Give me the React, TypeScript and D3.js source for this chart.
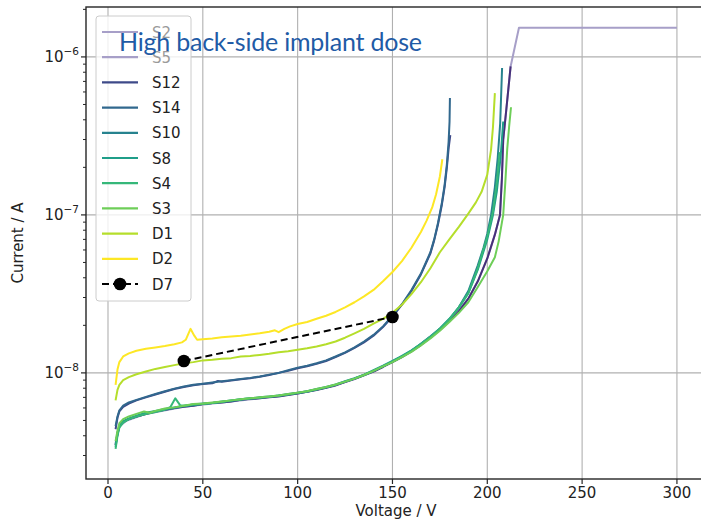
import React from 'react';
import * as d3 from 'd3';

type Pt = [number, number];

// ---- data (voltage V, current A) ----
const S2: Pt[] = [[4,3.6e-9],[6,4.6e-9],[10,5.0e-9],[20,5.5e-9],[40,6.1e-9],[60,6.5e-9],[80,6.9e-9],[100,7.4e-9],[120,8.3e-9],[140,1.02e-8],[160,1.37e-8],[180,2.12e-8],[190,2.95e-8],[195,3.8e-8],[200,5.3e-8],[204,7.5e-8],[206.7,1.0e-7],[207.7,1.7e-7],[208.4,3.0e-7],[210,4.6e-7],[212.3,8.7e-7],[216.7,1.53e-6],[300,1.53e-6]];
const S5: Pt[] = [[4,3.5e-9],[5,4.1e-9],[6,4.6e-9],[8,4.9e-9],[11,5.1e-9],[15,5.3e-9],[20,5.5e-9],[25,5.7e-9],[30,5.85e-9],[35,6.0e-9],[40,6.1e-9],[45,6.2e-9],[50,6.35e-9],[55,6.45e-9],[60,6.5e-9],[65,6.6e-9],[70,6.75e-9],[75,6.85e-9],[80,6.9e-9],[85,7.0e-9],[90,7.1e-9],[95,7.25e-9],[100,7.4e-9],[105,7.6e-9],[110,7.8e-9],[115,8.05e-9],[120,8.35e-9],[125,8.75e-9],[130,9.15e-9],[135,9.65e-9],[140,1.02e-8],[145,1.09e-8],[150,1.17e-8],[155,1.26e-8],[160,1.37e-8],[165,1.5e-8],[170,1.67e-8],[175,1.87e-8],[180,2.12e-8],[185,2.45e-8],[190,2.95e-8],[195,3.8e-8],[200,5.3e-8],[204,7.5e-8],[206.7,1.0e-7],[207.7,1.7e-7],[208.4,3.0e-7],[210,4.6e-7],[212.3,8.7e-7]];
const S12: Pt[] = [[4,4.4e-9],[5,5.2e-9],[6,5.7e-9],[8,6.1e-9],[11,6.4e-9],[15,6.7e-9],[20,7.0e-9],[25,7.3e-9],[30,7.6e-9],[35,7.9e-9],[40,8.15e-9],[45,8.35e-9],[50,8.5e-9],[55,8.6e-9],[58,8.9e-9],[60,8.8e-9],[65,8.95e-9],[70,9.1e-9],[75,9.25e-9],[80,9.45e-9],[85,9.7e-9],[90,1.0e-8],[95,1.03e-8],[100,1.07e-8],[105,1.1e-8],[110,1.14e-8],[115,1.19e-8],[120,1.26e-8],[125,1.34e-8],[130,1.44e-8],[135,1.56e-8],[140,1.72e-8],[145,1.95e-8],[150,2.27e-8],[155,2.7e-8],[160,3.3e-8],[165,4.2e-8],[170,5.7e-8],[172,6.9e-8],[174,8.7e-8],[176,1.15e-7],[177.5,1.5e-7],[178.7,2.0e-7],[179.7,2.7e-7],[180.5,3.2e-7]];
const S14: Pt[] = [[4,4.6e-9],[5,5.3e-9],[6,5.8e-9],[8,6.2e-9],[11,6.5e-9],[15,6.75e-9],[20,7.05e-9],[25,7.35e-9],[30,7.65e-9],[35,7.95e-9],[40,8.2e-9],[45,8.4e-9],[50,8.55e-9],[55,8.7e-9],[60,8.85e-9],[65,9.0e-9],[70,9.15e-9],[75,9.3e-9],[80,9.5e-9],[85,9.75e-9],[90,1.0e-8],[95,1.04e-8],[100,1.08e-8],[105,1.11e-8],[110,1.15e-8],[115,1.2e-8],[120,1.27e-8],[125,1.35e-8],[130,1.45e-8],[135,1.58e-8],[140,1.74e-8],[145,1.97e-8],[150,2.3e-8],[155,2.72e-8],[160,3.35e-8],[165,4.25e-8],[170,5.8e-8],[172,7.0e-8],[174,8.9e-8],[176,1.18e-7],[177.5,1.55e-7],[178.7,2.1e-7],[179.6,2.9e-7],[180.1,3.9e-7],[180.3,5.5e-7]];
const S10: Pt[] = [[4,3.5e-9],[5,4.2e-9],[6,4.6e-9],[8,4.9e-9],[11,5.1e-9],[15,5.3e-9],[20,5.55e-9],[25,5.7e-9],[30,5.85e-9],[35,6.0e-9],[40,6.15e-9],[45,6.25e-9],[50,6.35e-9],[55,6.45e-9],[60,6.55e-9],[65,6.65e-9],[70,6.75e-9],[75,6.85e-9],[80,6.95e-9],[85,7.05e-9],[90,7.15e-9],[95,7.3e-9],[100,7.45e-9],[105,7.6e-9],[110,7.85e-9],[115,8.1e-9],[120,8.4e-9],[125,8.8e-9],[130,9.2e-9],[135,9.7e-9],[140,1.03e-8],[145,1.1e-8],[150,1.18e-8],[155,1.27e-8],[160,1.38e-8],[165,1.52e-8],[170,1.69e-8],[175,1.9e-8],[180,2.18e-8],[185,2.6e-8],[190,3.3e-8],[195,4.8e-8],[198,6.2e-8],[200,7.6e-8],[202,1.0e-7],[204,1.5e-7],[205.5,2.3e-7],[206.8,3.8e-7],[207.8,8.5e-7]];
const S8: Pt[] = [[4,3.4e-9],[5,4.1e-9],[6,4.6e-9],[8,4.95e-9],[11,5.15e-9],[15,5.35e-9],[20,5.6e-9],[25,5.75e-9],[30,5.9e-9],[35,6.05e-9],[40,6.2e-9],[45,6.3e-9],[50,6.4e-9],[55,6.45e-9],[60,6.6e-9],[65,6.7e-9],[70,6.8e-9],[75,6.9e-9],[80,7.0e-9],[85,7.1e-9],[90,7.2e-9],[95,7.35e-9],[100,7.5e-9],[105,7.65e-9],[110,7.9e-9],[115,8.15e-9],[120,8.45e-9],[125,8.85e-9],[130,9.25e-9],[135,9.75e-9],[140,1.04e-8],[145,1.11e-8],[150,1.19e-8],[155,1.28e-8],[160,1.39e-8],[165,1.53e-8],[170,1.7e-8],[175,1.91e-8],[180,2.2e-8],[185,2.6e-8],[190,3.2e-8],[195,4.5e-8],[200,7.0e-8],[203,1.0e-7],[205,1.4e-7],[207,2.3e-7],[208.4,3.9e-7]];
const S4: Pt[] = [[4,3.3e-9],[5,4.0e-9],[6,4.5e-9],[8,4.85e-9],[11,5.1e-9],[15,5.3e-9],[20,5.5e-9],[25,5.65e-9],[30,5.85e-9],[33,6.1e-9],[35.5,6.9e-9],[38,6.25e-9],[40,6.2e-9],[45,6.3e-9],[50,6.35e-9],[55,6.45e-9],[60,6.55e-9],[65,6.7e-9],[70,6.8e-9],[75,6.9e-9],[80,6.95e-9],[85,7.05e-9],[90,7.2e-9],[95,7.3e-9],[100,7.45e-9],[105,7.65e-9],[110,7.85e-9],[115,8.1e-9],[120,8.4e-9],[125,8.8e-9],[130,9.2e-9],[135,9.7e-9],[140,1.03e-8],[145,1.1e-8],[150,1.18e-8],[155,1.27e-8],[160,1.38e-8],[165,1.52e-8],[170,1.69e-8],[175,1.9e-8],[180,2.18e-8],[185,2.6e-8],[190,3.2e-8],[195,4.6e-8],[200,7.3e-8],[203,1.05e-7],[205,1.6e-7],[206.5,2.5e-7]];
const S3: Pt[] = [[4,3.7e-9],[5,4.3e-9],[6,4.8e-9],[8,5.1e-9],[11,5.3e-9],[15,5.5e-9],[19,5.7e-9],[22,5.6e-9],[25,5.75e-9],[30,5.95e-9],[35,6.05e-9],[40,6.2e-9],[45,6.35e-9],[50,6.4e-9],[55,6.5e-9],[60,6.6e-9],[65,6.7e-9],[70,6.8e-9],[75,6.9e-9],[80,7.0e-9],[85,7.1e-9],[90,7.2e-9],[95,7.35e-9],[100,7.5e-9],[105,7.65e-9],[110,7.9e-9],[115,8.15e-9],[120,8.45e-9],[125,8.8e-9],[130,9.2e-9],[135,9.7e-9],[140,1.03e-8],[145,1.1e-8],[150,1.17e-8],[155,1.26e-8],[160,1.36e-8],[165,1.49e-8],[170,1.65e-8],[175,1.85e-8],[180,2.1e-8],[185,2.4e-8],[190,2.8e-8],[195,3.5e-8],[200,4.4e-8],[204,5.4e-8],[206,6.8e-8],[208.4,1.0e-7],[209.5,1.6e-7],[210.5,2.6e-7],[211.5,3.6e-7],[212.5,4.8e-7]];
const D1: Pt[] = [[4,6.7e-9],[5,7.8e-9],[6,8.4e-9],[8,9.0e-9],[11,9.4e-9],[15,9.8e-9],[20,1.02e-8],[25,1.06e-8],[30,1.09e-8],[35,1.12e-8],[40,1.15e-8],[45,1.17e-8],[50,1.2e-8],[55,1.21e-8],[60,1.23e-8],[65,1.24e-8],[70,1.27e-8],[75,1.28e-8],[80,1.3e-8],[85,1.32e-8],[90,1.35e-8],[95,1.37e-8],[100,1.4e-8],[105,1.43e-8],[110,1.47e-8],[115,1.52e-8],[120,1.58e-8],[125,1.67e-8],[130,1.78e-8],[135,1.9e-8],[140,2.05e-8],[145,2.2e-8],[150,2.4e-8],[155,2.7e-8],[160,3.15e-8],[165,3.75e-8],[170,4.6e-8],[175,5.8e-8],[180,7.0e-8],[185,8.4e-8],[190,1.02e-7],[194,1.2e-7],[197,1.4e-7],[200,1.8e-7],[202,2.6e-7],[203,3.6e-7],[204,5.9e-7]];
const D2: Pt[] = [[4,8.4e-9],[5,1.05e-8],[6,1.17e-8],[8,1.27e-8],[11,1.33e-8],[15,1.38e-8],[20,1.42e-8],[25,1.45e-8],[30,1.48e-8],[35,1.52e-8],[39,1.56e-8],[41,1.62e-8],[43.5,1.9e-8],[45.5,1.72e-8],[47,1.62e-8],[50,1.63e-8],[55,1.65e-8],[60,1.68e-8],[65,1.7e-8],[70,1.72e-8],[75,1.75e-8],[80,1.78e-8],[85,1.82e-8],[88,1.86e-8],[90,1.81e-8],[93,1.9e-8],[96,1.97e-8],[100,2.04e-8],[105,2.1e-8],[110,2.2e-8],[115,2.3e-8],[120,2.43e-8],[125,2.6e-8],[130,2.8e-8],[135,3.05e-8],[140,3.35e-8],[145,3.8e-8],[150,4.35e-8],[155,5.1e-8],[160,6.2e-8],[165,7.8e-8],[168,9.2e-8],[171,1.12e-7],[173,1.35e-7],[175,1.75e-7],[176.3,2.25e-7]];
const D7: Pt[] = [[40,1.19e-8],[150,2.26e-8]];

const seriesNames = ['S2','S5','S12','S14','S10','S8','S4','S3','D1','D2'];
const seriesData = [S2, S5, S12, S14, S10, S8, S4, S3, D1, D2];
const legendColors = ['#a79fc8','#a79fc8','#3e4a89','#31688e','#26828e','#1f9e89','#35b779','#6ece58','#b5de2b','#fde725'];
const lineColors = ['#a79fc8','#46307a','#3e4a89','#31688e','#26828e','#1f9e89','#35b779','#6ece58','#b5de2b','#fde725'];
const legendTextColors = ['#9a9a9a','#9a9a9a','#222','#222','#222','#222','#222','#222','#222','#222'];
const drawOrder = [0, 1, 2, 3, 4, 5, 6, 7, 8, 9];

const xTicks = [0, 50, 100, 150, 200, 250, 300];
const yTicks = [1e-8, 1e-7, 1e-6];
const yTickExp = ['\u22128', '\u22127', '\u22126'];

const titleText = 'High back-side implant dose';
const xLabel = 'Voltage / V';
const yLabel = 'Current / A';

export default function App() {
  const W = 701, H = 521;
  const L = 86, R = 705, T = 7, B = 479;
  const x = d3.scaleLinear().domain([-11.6, 314.8]).range([L, R]);
  const y = d3.scaleLog().domain([2.13e-9, 2.07e-6]).range([B, T]);
  const line = d3.line<Pt>().x(d => x(d[0])).y(d => y(d[1]));
  const minor = y.ticks().filter(t => {
    const l = Math.log10(t);
    return Math.abs(l - Math.round(l)) > 1e-6;
  });
  const font = 'DejaVu Sans, sans-serif';
  const legX = 96, legY = 16, legW = 95, legH = 285;
  const legRow = (i: number) => 32 + i * 25.2;

  return (
    <svg width={W} height={H} style={{ position: 'absolute', left: 0, top: 0, background: '#fff' }} fontFamily={font}>
      <defs>
        <clipPath id="plotclip"><rect x={L} y={T} width={R - L} height={B - T} /></clipPath>
      </defs>
      <rect x={0} y={0} width={W} height={H} fill="#fff" />
      {/* grid */}
      <g stroke="#b0b0b0" strokeWidth={1.1}>
        {xTicks.map(t => <line key={'gx' + t} x1={x(t)} x2={x(t)} y1={T} y2={B} />)}
        {yTicks.map(t => <line key={'gy' + t} x1={L} x2={R} y1={y(t)} y2={y(t)} />)}
      </g>
      {/* curves */}
      <g clipPath="url(#plotclip)" fill="none" strokeWidth={2} strokeLinejoin="round">
        {drawOrder.map(i => (
          <path key={seriesNames[i]} d={line(seriesData[i]) || ''} stroke={lineColors[i]} />
        ))}
        <path d={line(D7) || ''} stroke="#000" strokeDasharray="7,4" />
        {D7.map((d, k) => <circle key={'d7' + k} cx={x(d[0])} cy={y(d[1])} r={6.3} fill="#000" />)}
      </g>
      {/* frame */}
      <rect x={L} y={T} width={R - L} height={B - T} fill="none" stroke="#262626" strokeWidth={1.4} />
      {/* x ticks */}
      {xTicks.map(t => (
        <g key={'xt' + t}>
          <line x1={x(t)} x2={x(t)} y1={B} y2={B + 5} stroke="#262626" strokeWidth={1.2} />
          <text x={x(t)} y={498} textAnchor="middle" fontSize={15} fill="#222">{t}</text>
        </g>
      ))}
      {/* y ticks */}
      {yTicks.map((t, i) => (
        <g key={'yt' + t}>
          <line x1={L - 5} x2={L} y1={y(t)} y2={y(t)} stroke="#262626" strokeWidth={1.2} />
          <text x={79} y={y(t) + 5.5} textAnchor="end" fontSize={15} fill="#222">
            10<tspan dy={-7} fontSize={10.5}>{yTickExp[i]}</tspan>
          </text>
        </g>
      ))}
      {minor.map(t => (
        <line key={'ym' + t} x1={L - 3} x2={L} y1={y(t)} y2={y(t)} stroke="#262626" strokeWidth={1} />
      ))}
      <text x={396} y={516} textAnchor="middle" fontSize={15} fill="#222">{xLabel}</text>
      <text transform={`translate(23,${(T + B) / 2}) rotate(-90)`} textAnchor="middle" fontSize={15} fill="#222">{yLabel}</text>
      {/* legend */}
      <rect x={legX} y={legY} width={legW} height={legH} rx={3} fill="#fff" fillOpacity={0.8} stroke="#cccccc" strokeWidth={1} />
      {seriesNames.map((n, i) => (
        <g key={'lg' + n}>
          <line x1={102} x2={138} y1={legRow(i)} y2={legRow(i)} stroke={legendColors[i]} strokeWidth={2.2} />
          <text x={152} y={legRow(i) + 5.5} fontSize={15} fill={legendTextColors[i]}>{n}</text>
        </g>
      ))}
      <g>
        <line x1={102} x2={138} y1={legRow(10)} y2={legRow(10)} stroke="#000" strokeWidth={2.2} strokeDasharray="7,4" />
        <circle cx={120} cy={legRow(10)} r={6.3} fill="#000" />
        <text x={152} y={legRow(10) + 5.5} fontSize={15} fill="#222">D7</text>
      </g>
      {/* title */}
      <text x={119} y={51} fontFamily="Lato, 'Open Sans', sans-serif" fontSize={25} fill="#1f5ba6" textLength={303}>{titleText}</text>
    </svg>
  );
}
